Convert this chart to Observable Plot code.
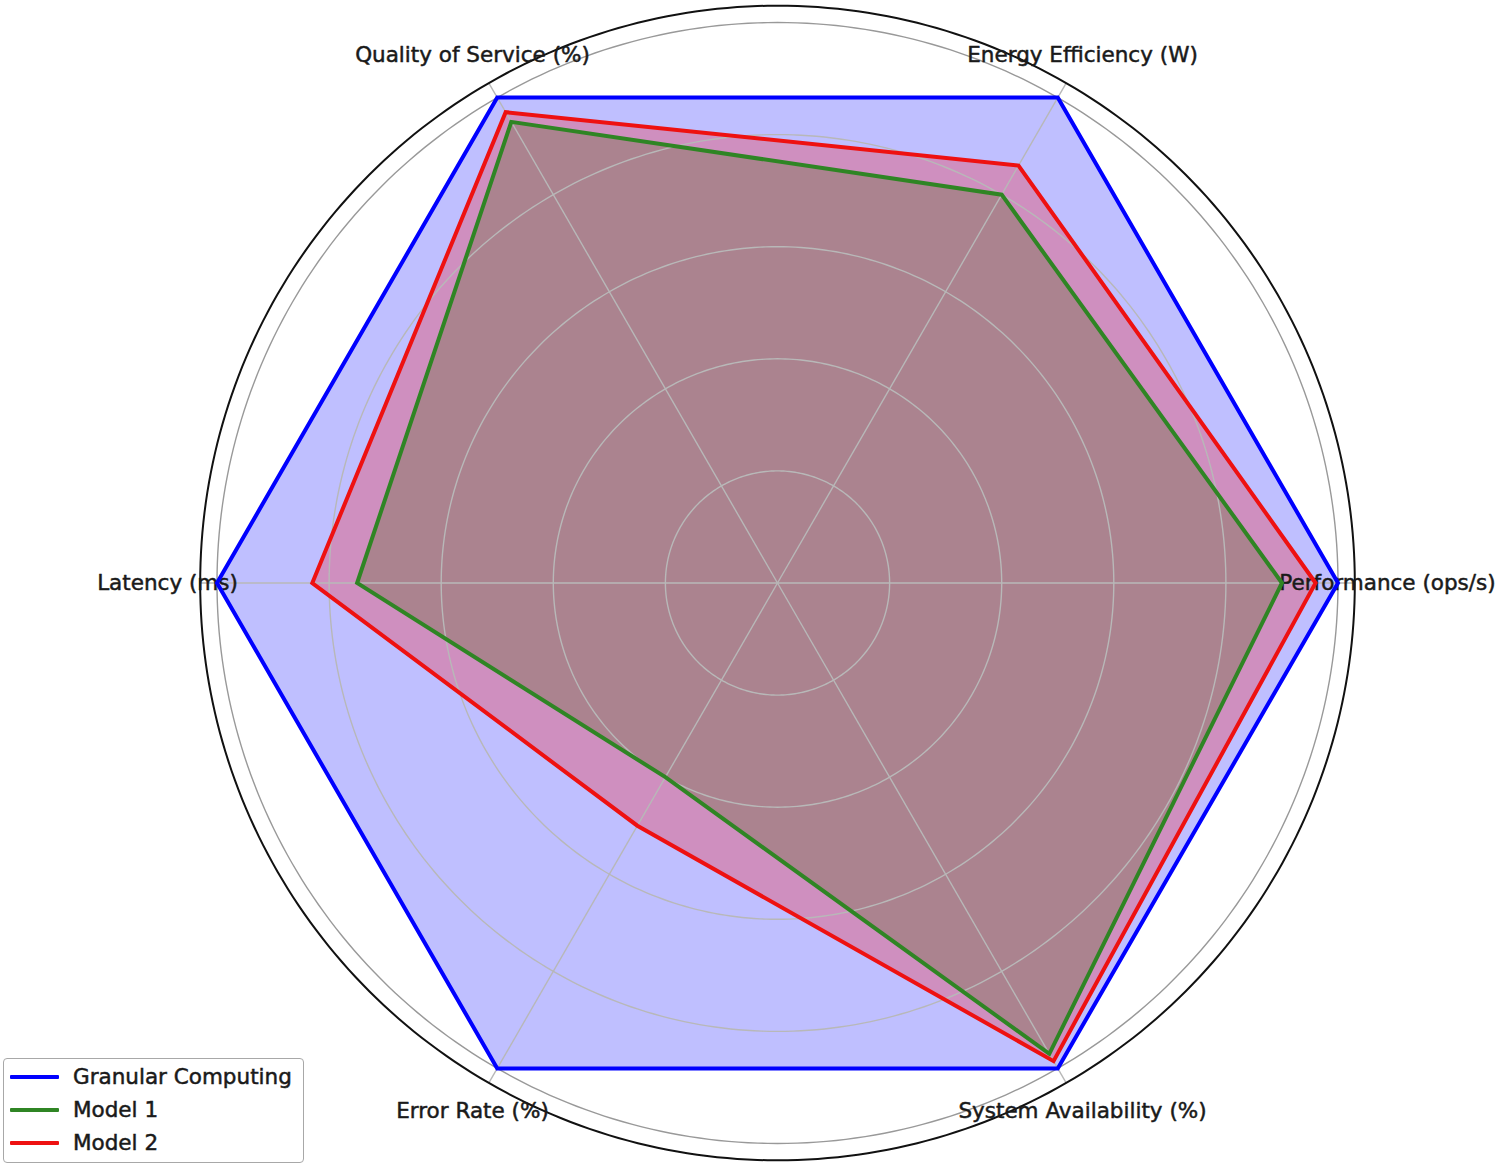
<!DOCTYPE html>
<html>
<head>
<meta charset="utf-8">
<script src="https://cdn.jsdelivr.net/npm/d3@7"></script>
<script src="https://cdn.jsdelivr.net/npm/@observablehq/plot@0.6"></script>
<style>
  html, body { margin: 0; padding: 0; background: #fff; }
  #wrap { position: relative; width: 1499px; height: 1169px; overflow: hidden; }
  #legend {
    position: absolute; left: 3px; top: 1058px; width: 301px; height: 105px;
    border: 1.5px solid #a8a8a8; border-radius: 4px; background: rgba(255,255,255,0.8);
    box-sizing: border-box; font-family: "DejaVu Sans", sans-serif; font-size: 21.5px; color: #1a1a1a;
    -webkit-text-stroke: 0.5px #1a1a1a;
  }
  #legend .row { position: absolute; left: 0; height: 33px; display: flex; align-items: center; }
  #legend .swatch { width: 49px; height: 4px; margin-left: 6px; margin-right: 14px; border-radius: 1px; }
</style>
</head>
<body>
<div id="wrap"><div id="chart"></div><div id="legend"></div></div>
<script>
// ---- data ----
const categories = ["Performance (ops/s)", "Energy Efficiency (W)", "Quality of Service (%)", "Latency (ms)", "Error Rate (%)", "System Availability (%)"];
const seriesNames = ["Granular Computing", "Model 1", "Model 2"];
const granularComputing = [1.0, 1.0, 1.0, 1.0, 1.0, 1.0];
const model1 = [0.90, 0.80, 0.95, 0.75, 0.40, 0.97];
const model2 = [0.96, 0.86, 0.97, 0.83, 0.50, 0.985];
const gridLevels = [0.2, 0.4, 0.6, 0.8, 1.0];
const rMax = 1.03;

// ---- styling ----
const fillColors = ["#0000ff", "#008000", "#ff0000"];
const lineColors = ["#0000ff", "#2f8524", "#ee1111"];
const W = 1499, H = 1169, cx = 777, cy = 582.5, k = 560.5;

const seriesValues = [granularComputing, model1, model2];
const n = categories.length;
const angle = i => i * 2 * Math.PI / n;

const series = seriesValues.map((vals, s) => vals.map((v, i) => ({
  name: seriesNames[s], cat: categories[i], x: v * Math.cos(angle(i)), y: v * Math.sin(angle(i))
})));

const circle = r => d3.range(0, 361, 1).map(deg => ({
  x: r * Math.cos(deg * Math.PI / 180), y: r * Math.sin(deg * Math.PI / 180)
}));

const spokes = categories.map((c, i) => ({
  x2: rMax * Math.cos(angle(i)), y2: rMax * Math.sin(angle(i))
}));

const labelR = 610 / k;
const labels = categories.map((c, i) => ({
  text: c, x: labelR * Math.cos(angle(i)), y: labelR * Math.sin(angle(i))
}));

const marks = [];
// fills
series.forEach((pts, s) => {
  marks.push(Plot.line(pts, {x: "x", y: "y", curve: "linear-closed", fill: fillColors[s], fillOpacity: 0.25, stroke: "none"}));
});
// grid circles
gridLevels.forEach(r => {
  marks.push(Plot.line(circle(r), {x: "x", y: "y", stroke: r === 1 ? "#999999" : "#b8b8b8", strokeWidth: 1.4}));
});
// spokes
marks.push(Plot.link(spokes, {x1: () => 0, y1: () => 0, x2: "x2", y2: "y2", stroke: "#b8b8b8", strokeWidth: 1.4}));
// outer spine
marks.push(Plot.line(circle(rMax), {x: "x", y: "y", stroke: "#111", strokeWidth: 2}));
// labels
marks.push(Plot.text(labels, {x: "x", y: "y", text: "text", fontSize: 21.5, fill: "#1a1a1a", stroke: "#1a1a1a", strokeWidth: 0.5, textAnchor: "middle", lineAnchor: "middle"}));
// lines
series.forEach((pts, s) => {
  marks.push(Plot.line(pts, {x: "x", y: "y", curve: "linear-closed", stroke: lineColors[s], strokeWidth: 4, strokeLinejoin: "miter", strokeMiterlimit: 10}));
});

const chart = Plot.plot({
  width: W, height: H,
  margin: 0,
  style: {fontFamily: "DejaVu Sans, sans-serif", background: "#fff", overflow: "visible"},
  x: {domain: [-cx / k, (W - cx) / k], range: [0, W], axis: null},
  y: {domain: [-(H - cy) / k, cy / k], range: [H, 0], axis: null},
  marks
});
document.getElementById("chart").appendChild(chart);

// legend
const legend = document.getElementById("legend");
seriesNames.forEach((name, s) => {
  const row = document.createElement("div");
  row.className = "row";
  row.style.top = (1 + s * 33) + "px";
  const sw = document.createElement("div");
  sw.className = "swatch";
  sw.style.background = lineColors[s];
  const t = document.createElement("span");
  t.textContent = name;
  row.appendChild(sw); row.appendChild(t);
  legend.appendChild(row);
});
</script>
</body>
</html>
